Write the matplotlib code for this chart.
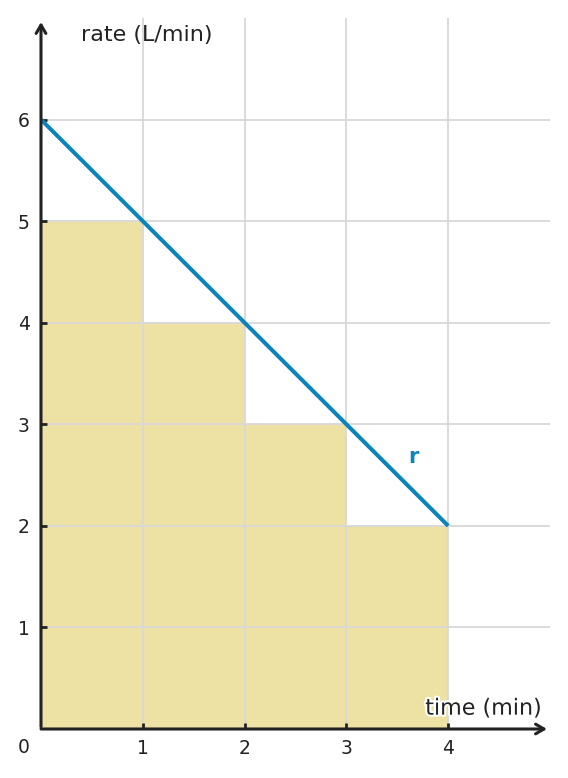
import matplotlib
matplotlib.use("Agg")
import matplotlib.pyplot as plt
import matplotlib.patheffects as pe

# Data
bar_left = [0, 1, 2, 3]
bar_heights = [5, 4, 3, 2]
line_x = [0, 4]
line_y = [6, 2]
x_ticks = [1, 2, 3, 4]
y_ticks = [1, 2, 3, 4, 5, 6]

bar_color = "#EDE1A4"
line_color = "#0A84BA"
grid_color = "#D8D8D8"
axis_color = "#222222"
text_color = "#222222"

fig = plt.figure(figsize=(5.68, 7.78), dpi=100)
ax = fig.add_axes([41/568, 49/778, (550-41)/568, (729-18)/778])
ax.set_xlim(0, 5)
ax.set_ylim(0, 7)

ax.bar(bar_left, bar_heights, width=1, align="edge", color=bar_color, zorder=1, linewidth=0)
ax.plot(line_x, line_y, color=line_color, lw=2.9, zorder=4, solid_capstyle="butt")

ax.set_axisbelow(False)
ax.set_xticks(x_ticks)
ax.set_yticks(y_ticks)
ax.grid(True, color=grid_color, lw=1.3, zorder=2)
for s in ax.spines.values():
    s.set_visible(False)
ax.tick_params(direction="in", length=4, width=2, color=axis_color, labelsize=13.5,
               labelcolor=text_color)
ax.tick_params(axis="x", pad=7.5)
ax.tick_params(axis="y", pad=8)
for lbl in ax.get_yticklabels():
    lbl.set_va("center_baseline")

# axis arrows
ax.annotate("", xy=(4.97, 0), xytext=(0, 0), xycoords="data",
            arrowprops=dict(arrowstyle="->,head_length=0.6,head_width=0.35", color=axis_color, lw=2.2,
                            shrinkA=0, shrinkB=0), annotation_clip=False, zorder=5)
ax.annotate("", xy=(0, 6.96), xytext=(0, 0.02), xycoords="data",
            arrowprops=dict(arrowstyle="->,head_length=0.6,head_width=0.35", color=axis_color, lw=2.2,
                            shrinkA=0, shrinkB=0), annotation_clip=False, zorder=5)

ax.annotate("0", xy=(0, 0), xytext=(-12.5, -13.5), textcoords="offset points",
            ha="center", va="center", fontsize=13.5, color=text_color, annotation_clip=False)

ax.text(0.39, 6.83, "rate (L/min)", ha="left", va="center", fontsize=16, color=text_color)
ax.text(4.92, 0.2, "time (min)", ha="right", va="center", fontsize=16, color=text_color,
        zorder=6, path_effects=[pe.withStroke(linewidth=3, foreground="white")])
ax.text(3.66, 2.68, "r", ha="center", va="center", fontsize=15, fontweight="bold",
        color=line_color, zorder=6)

fig.savefig("out.png", dpi=100)
